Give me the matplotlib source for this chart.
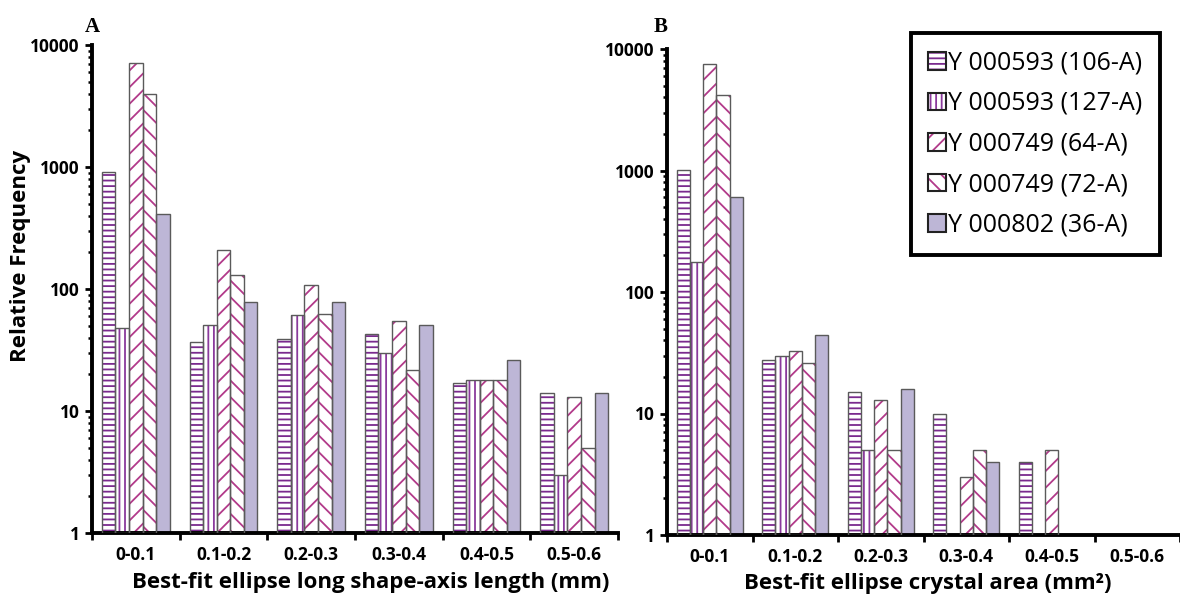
import matplotlib
matplotlib.use("Agg")
import matplotlib.pyplot as plt
from matplotlib.patches import Patch
from matplotlib.ticker import LogLocator, FixedLocator, NullFormatter
import numpy as np

# категории (диапазоны) и подписи
categories = ["0-0.1", "0.1-0.2", "0.2-0.3", "0.3-0.4", "0.4-0.5", "0.5-0.6"]
series_names = ["Y 000593 (106-A)", "Y 000593 (127-A)", "Y 000749 (64-A)",
                "Y 000749 (72-A)", "Y 000802 (36-A)"]

# панель A: длина длинной оси эллипса
a_106 = [910, 37, 39, 43, 17, 14]
a_127 = [48, 51, 61, 30, 18, 3]
a_64 = [7100, 209, 107, 55, 18, 13]
a_72 = [4000, 130, 62, 21.5, 18, 5]
a_36 = [410, 78, 78, 51, 26, 14]

# панель B: площадь эллипса (0 = нет столбца)
b_106 = [1010, 27.5, 15, 10, 4, 0]
b_127 = [177, 30, 5, 0, 0, 0]
b_64 = [7500, 32.5, 13, 3, 5, 0]
b_72 = [4200, 26, 5, 5, 0, 0]
b_36 = [600, 44.5, 16, 4, 0, 0]

hatches = ["---", "|||", "//", "\\\\", None]
hatch_colors = ["#7a2a8e", "#8a3a9c", "#b23a8a", "#b23a8a", None]
fill_36 = "#bdb6d6"
edge = "#5a5a5a"

plt.rcParams["hatch.linewidth"] = 1.3
plt.rcParams["font.family"] = ["Open Sans", "DejaVu Sans"]

fig = plt.figure(figsize=(11.8, 5.98), dpi=100)
ax_a = fig.add_axes([92 / 1180, 65 / 598, 526 / 1180, 488 / 598])
ax_b = fig.add_axes([667 / 1180, 63 / 598, 513 / 1180, 486 / 598])

x = np.arange(len(categories)) + 0.5
w = 0.155


def draw_panel(ax, data):
    for i, vals in enumerate(data):
        vals = np.array(vals, dtype=float)
        pos = x + (i - 2) * w
        mask = vals > 0
        if hatches[i] is None:
            ax.bar(pos[mask], vals[mask] - 1, bottom=1, width=w, color=fill_36,
                   edgecolor=edge, linewidth=1, zorder=2)
        else:
            ax.bar(pos[mask], vals[mask] - 1, bottom=1, width=w, color="white",
                   edgecolor=hatch_colors[i], hatch=hatches[i], linewidth=0, zorder=2)
            ax.bar(pos[mask], vals[mask] - 1, bottom=1, width=w, fill=False,
                   edgecolor=edge, linewidth=1, zorder=3)

    ax.set_yscale("log")
    ax.set_ylim(1, 10000)
    ax.set_xlim(0, len(categories))
    ax.yaxis.set_major_locator(FixedLocator([1, 10, 100, 1000, 10000]))
    ax.set_yticklabels(["1", "10", "100", "1000", "10000"])
    ax.yaxis.set_minor_locator(LogLocator(base=10, subs=np.arange(2, 10)))
    ax.yaxis.set_minor_formatter(NullFormatter())
    ax.set_xticks(np.arange(len(categories) + 1))
    ax.set_xticklabels([])
    ax.set_xticks(x, minor=True)
    ax.set_xticklabels(categories, minor=True)

    for s in ["top", "right"]:
        ax.spines[s].set_visible(False)
    for s in ["left", "bottom"]:
        ax.spines[s].set_linewidth(2.8)
        ax.spines[s].set_color("black")

    ax.tick_params(axis="y", which="major", length=5, width=2, labelsize=12.5, pad=4)
    ax.tick_params(axis="y", which="minor", length=3, width=1.8)
    ax.tick_params(axis="x", which="major", length=5, width=2, direction="out")
    ax.tick_params(axis="x", which="minor", length=0, labelsize=12.5, pad=9)
    for lab in ax.get_yticklabels() + ax.get_xticklabels(minor=True):
        lab.set_fontweight("bold")


draw_panel(ax_a, [a_106, a_127, a_64, a_72, a_36])
draw_panel(ax_b, [b_106, b_127, b_64, b_72, b_36])

ax_a.set_ylabel("Relative Frequency", fontsize=16, fontweight="bold")
ax_a.yaxis.set_label_coords(-0.116, 0.568)
ax_a.set_xlabel("Best-fit ellipse long shape-axis length (mm)", fontsize=16, fontweight="bold")
ax_a.xaxis.set_label_coords(0.529, -0.08)
ax_b.set_xlabel("Best-fit ellipse crystal area (mm²)", fontsize=16, fontweight="bold")
ax_b.xaxis.set_label_coords(0.509, -0.078)

fig.text(92 / 1180, 1 - 27 / 598, "A", family="Liberation Serif", fontweight="bold",
         fontsize=15, ha="center", va="center")
fig.text(661 / 1180, 1 - 27 / 598, "B", family="Liberation Serif", fontweight="bold",
         fontsize=15, ha="center", va="center")

# легенда с прокси-патчами
handles = []
for i in range(5):
    if hatches[i] is None:
        handles.append(Patch(facecolor=fill_36, edgecolor="#222222", linewidth=1.5))
    else:
        handles.append((Patch(facecolor="white", edgecolor=hatch_colors[i], hatch=hatches[i], linewidth=0),
                        Patch(fill=False, edgecolor="#222222", linewidth=1.5)))
leg = fig.legend(handles, series_names, loc="upper right",
                 bbox_to_anchor=(1160 / 1180, 1 - 33 / 598), bbox_transform=fig.transFigure,
                 fontsize=18, handlelength=0.7, handleheight=0.7, handletextpad=0.1,
                 labelspacing=0.62, borderpad=0.7, borderaxespad=0, fancybox=False,
                 framealpha=1)
leg.get_frame().set_edgecolor("black")
leg.get_frame().set_linewidth(2.8)

fig.savefig("out.png", dpi=100)
